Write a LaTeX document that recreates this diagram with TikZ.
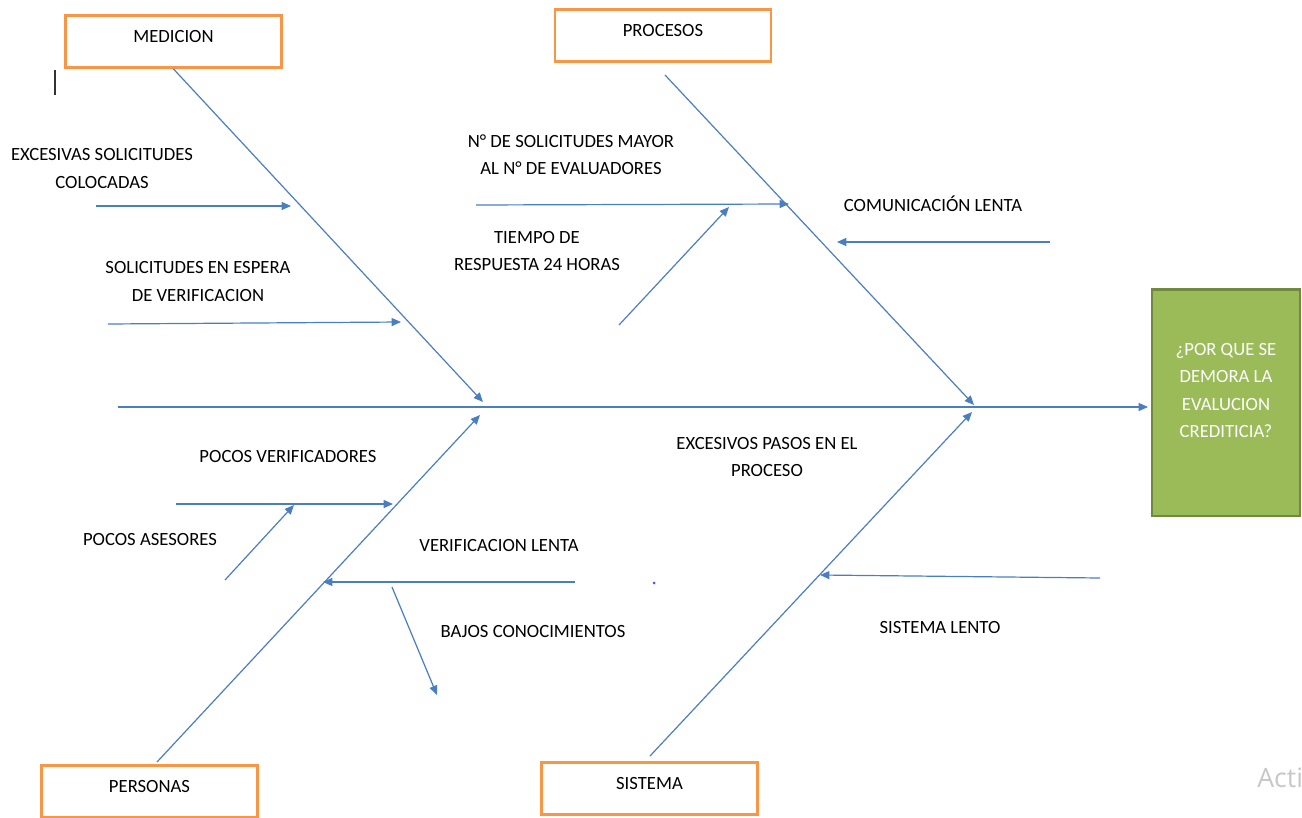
\documentclass[tikz,border=0pt]{standalone}
\usepackage{fontspec}
\setmainfont{Carlito}
\newfontfamily\wmfont{Open Sans}
\usetikzlibrary{arrows.meta}
\definecolor{bonec}{RGB}{74,126,193}
\definecolor{catc}{RGB}{247,150,70}
\definecolor{effc}{RGB}{155,187,89}
\definecolor{effd}{RGB}{113,137,63}
\tikzset{
  cat/.style={rectangle,draw=catc,line width=2.2pt,fill=white,minimum width=162pt,minimum height=39pt,inner sep=0pt,text height=9pt,text depth=8pt},
  eff/.style={rectangle,draw=effd,line width=2pt,fill=effc,minimum width=111pt,minimum height=170pt,inner sep=0pt,text=white,align=center,text depth=18pt},
  lbl/.style={align=center,inner sep=0pt},
  bone/.style={line width=0.9pt,bonec},
  flow/.style={-{Triangle[length=7pt,width=6pt]},line width=0.9pt,bonec},
}

\begin{document}
\begin{tikzpicture}[x=0.75pt,y=-0.75pt,font=\fontsize{14}{20.5}\selectfont]
  \useasboundingbox (0,0) rectangle (1302,817);
  % categories and effect
  \foreach \n/\x/\y/\t in {medicion/173.5/41.5/MEDICION, procesos/663/35.5/PROCESOS,
                          personas/149.5/791.5/PERSONAS, sistema/649.5/788.5/SISTEMA}{
    \node[cat] (\n) at (\x,\y){\t};}
  \node[eff] (efecto) at (1226,402.5){¿POR QUE SE\\DEMORA LA\\EVALUCION\\CREDITICIA?};
  % spine and bones
  \coordinate (spL) at (118,407);
  \coordinate (spR) at (1148,407);
  \draw[flow] (spL)--(spR);
  \foreach \n/\x/\y in {mB/483/402, pA/665/75, pB/974/405, peA/157/762, peB/480/415, sA/650/756, sB/972/412}{
    \coordinate (\n) at (\x,\y);}
  \draw[flow] (medicion.south)--(mB);
  \draw[flow] (pA)--(pB);
  \draw[flow] (peA)--(peB);
  \draw[flow] (sA)--(sB);
  % causes
  \foreach \n/\x/\y in {a1/96/206, b1/291/206, a2/108/324, b2/401/322, a3/476/205, b3/789/204,
                        a4/619/325, b4/729/207, a5/1050/242, b5/837/242, a6/176/504, b6/393/504,
                        a7/225/580, b7/294/505, a8/575/582, b8/323/582, a9/392/587, b9/437/695,
                        a10/1100/578, b10/820/575}{
    \coordinate (\n) at (\x,\y);}
  \foreach \i in {1,...,10}{\draw[flow] (a\i)--(b\i);}
  \node[lbl] (excesivas) at (102,168.5){EXCESIVAS SOLICITUDES\\COLOCADAS};
  \node[lbl] (espera) at (198,281.5){SOLICITUDES EN ESPERA\\DE VERIFICACION};
  \node[lbl] (mayor) at (571,155){N° DE SOLICITUDES MAYOR\\AL N° DE EVALUADORES};
  \node[lbl] (tiempo) at (537,251){TIEMPO DE\\RESPUESTA 24 HORAS};
  \node[lbl] (comunic) at (933,204){COMUNICACIÓN LENTA};
  \node[lbl] (verifs) at (288,457){POCOS VERIFICADORES};
  \node[lbl] (asesores) at (150,540){POCOS ASESORES};
  \node[lbl] (verlenta) at (499,546){VERIFICACION LENTA};
  \node[lbl] (bajos) at (533,631){BAJOS CONOCIMIENTOS};
  \node[lbl] (pasos) at (767,457){EXCESIVOS PASOS EN EL\\PROCESO};
  \node[lbl] (sislento) at (940,627){SISTEMA LENTO};
  % stray marks
  \coordinate (curA) at (55,70);
  \coordinate (curB) at (55,95);
  \draw[line width=1pt,black!80] (curA)--(curB);
  \fill[blue!70] (654,583) circle[radius=1.5];
  \node[anchor=base west,inner sep=0pt,text=black!22,font=\wmfont\fontsize{20}{24}\selectfont] (wm) at (1257,787){Acti};
\end{tikzpicture}
\end{document}
